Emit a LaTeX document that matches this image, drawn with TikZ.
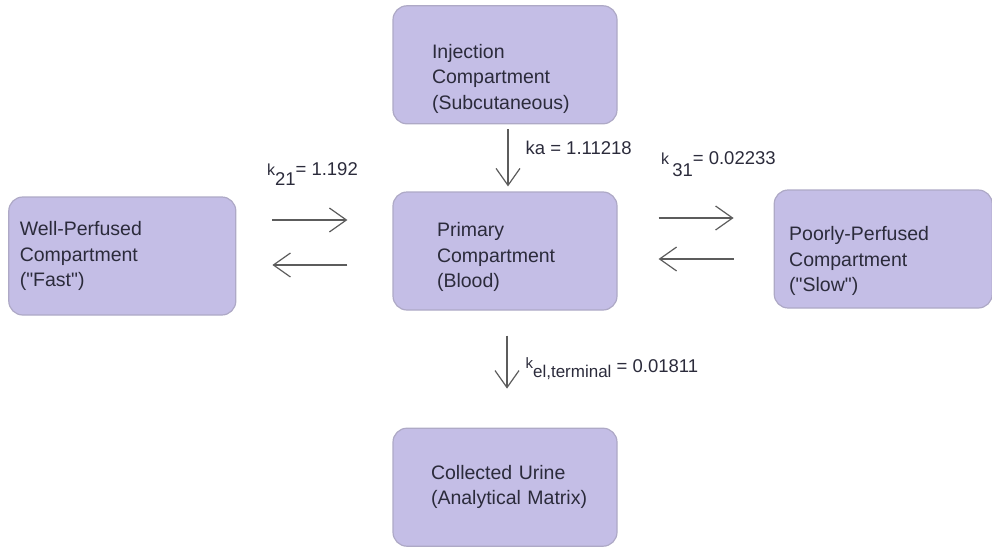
\documentclass[tikz,border=0pt]{standalone}
\usepackage{fontspec}
\setmainfont{Liberation Sans}
\definecolor{compFill}{HTML}{C4BEE6}
\definecolor{compEdge}{HTML}{AEA9C6}
\definecolor{compInk}{HTML}{2B2B3B}
\definecolor{flowGray}{HTML}{5C5C5C}
\usetikzlibrary{arrows.meta, positioning}

\begin{document}
\begin{tikzpicture}[
    x=1pt, y=1pt,
    comp/.style={
      rounded corners=14pt,
      draw=compEdge,
      fill=compFill,
      text=compInk,
      minimum height=118pt,
      minimum width=224pt,
      inner sep=0pt,
      align=left,
      font=\fontsize{19.5}{25.5}\selectfont,
      line width=1.2pt,
    },
    flow/.style={-{Straight Barb[length=17pt,width=24pt]}, flowGray, line width=1.2pt},
    rate/.style={text=compInk, inner sep=0pt, anchor=base west, font=\fontsize{18.5}{22}\selectfont},
  ]
    \useasboundingbox (0,0) rectangle (992,-546);

    % compartments
    \node[comp, text width=136pt] (prim) at (505,-251)
      {\rule{0pt}{27pt}Primary\\Compartment\\(Blood)};
    \node[comp, text width=146pt, above=67pt of prim] (inj)
      {\rule{0pt}{42pt}Injection\\Compartment\\(Subcutaneous)};
    \node[comp, text width=148pt, below=117pt of prim] (urine)
      {Collected Urine\\\mbox{(Analytical Matrix)}};
    \node[comp, text width=205pt, minimum width=227pt, left=156pt of prim, yshift=-5pt] (well)
      {Well-Perfused\\Compartment\\(\textquotedbl Fast\textquotedbl)};
    \node[comp, text width=188pt, minimum width=218pt, right=156pt of prim, yshift=2pt] (poor)
      {\rule{0pt}{39pt}Poorly-Perfused\\Compartment\\(\textquotedbl Slow\textquotedbl)};

    % absorption and elimination
    \draw[flow, shorten <=5pt, shorten >=5pt] ([xshift=3pt]inj.south) --
      node[rate, xshift=17pt, yshift=3.5pt] {ka = 1.11218} ([xshift=3pt]prim.north);
    \draw[flow, shorten <=25pt, shorten >=39pt] ([xshift=2pt]prim.south) --
      node[rate, xshift=18pt, yshift=-3.5pt] {{\fontsize{15}{15}\selectfont\raisebox{4pt}{k}}{\fontsize{17}{17}\selectfont\raisebox{-5pt}{el,terminal}} = 0.01811}
      ([xshift=2pt]urine.north);

    % exchange with the peripheral compartments
    \draw[flow, shorten <=36pt, shorten >=45pt] ([yshift=36pt]well.east) --
      node[rate, xshift=-48pt, yshift=45pt] {{\fontsize{16}{16}\selectfont k}\raisebox{-10pt}{21}= 1.192}
      ([yshift=36pt]well.east -| prim.west);
    \draw[flow, shorten <=45pt, shorten >=36pt] ([yshift=-14pt]prim.west) -- ([yshift=-14pt]prim.west -| well.east);
    \draw[flow, shorten <=41pt, shorten >=40pt] ([yshift=33pt]prim.east) --
      node[rate, xshift=-35pt, yshift=54pt] {{\fontsize{16}{16}\selectfont k}\,\raisebox{-12pt}{31}= 0.02233}
      ([yshift=33pt]prim.east -| poor.west);
    \draw[flow, shorten <=40pt, shorten >=41pt] ([yshift=-10pt]poor.west) -- ([yshift=-10pt]poor.west -| prim.east);
  \end{tikzpicture}
\end{document}
